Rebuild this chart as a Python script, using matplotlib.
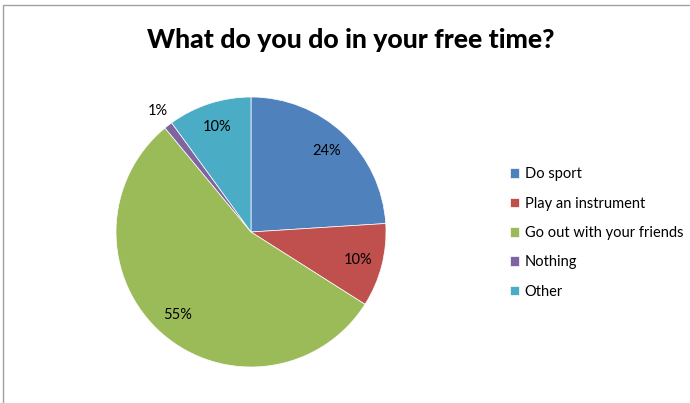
import matplotlib.pyplot as plt
from matplotlib.patches import Rectangle

# Survey answers (percent of pupils)
activities = ["Do sport", "Play an instrument", "Go out with your friends", "Nothing", "Other"]
shares = [24, 10, 55, 1, 10]
colors = ["#4F81BD", "#C0504D", "#9BBB59", "#8064A2", "#4BACC6"]

plt.rcParams['font.family'] = ['Lato', 'DejaVu Sans']

fig = plt.figure(figsize=(6.9, 4.03), dpi=100)
# thin grey frame round the chart area
fig.patches.append(Rectangle((3 / 690, -0.1), 1.2, 1 - 5 / 403 + 0.1, transform=fig.transFigure,
                             fill=False, edgecolor="#A0A0A0", linewidth=1.0))

ax = fig.add_axes([116 / 690, 36 / 403, 270 / 690, 270 / 403])
wedges, texts, pcts = ax.pie(shares, colors=colors, startangle=90, counterclock=False,
                             autopct=lambda p: f"{p:.0f}%", pctdistance=0.82,
                             wedgeprops=dict(edgecolor="white", linewidth=0.5),
                             textprops=dict(fontsize=10.5, color="black"))
# the tiny slice gets its label outside the pie
small = shares.index(1)
x, y = pcts[small].get_position()
pcts[small].set_position((x / 0.82 * 1.13, y / 0.82 * 1.13))
ax.set_xlim(-1, 1)
ax.set_ylim(-1, 1)
ax.set_aspect("equal")

fig.text(351 / 690, 1 - 40 / 403, "What do you do in your free time?", ha="center", va="center",
         fontsize=19.2, fontweight="black")

fig.legend(wedges, activities, loc="center left", bbox_to_anchor=(510 / 690, 1 - 233 / 403),
           frameon=False, fontsize=10.5, borderpad=0, borderaxespad=0,
           handlelength=0.65, handleheight=0.65, handletextpad=0.35, labelspacing=1.05)

fig.savefig("out.png", dpi=100)
